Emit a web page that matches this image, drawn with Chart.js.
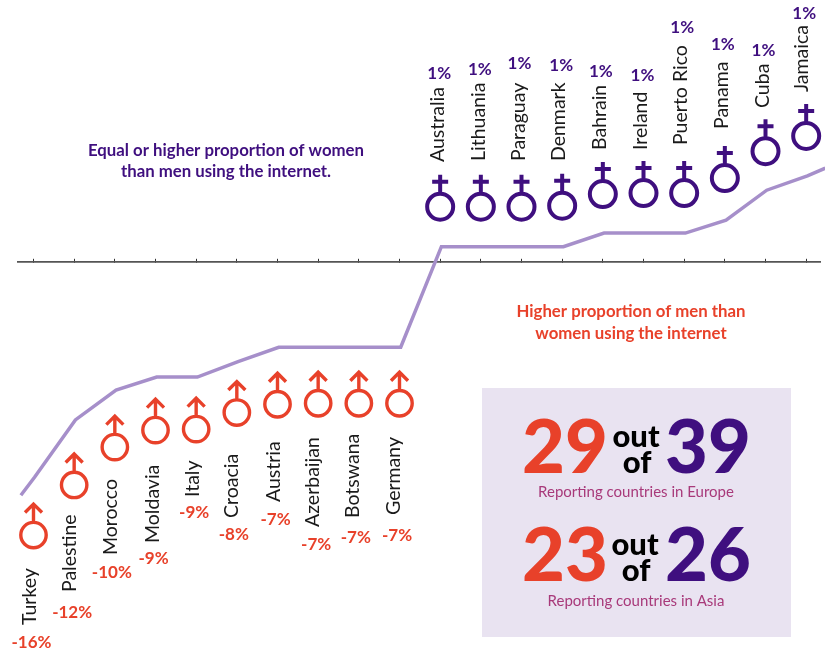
<!DOCTYPE html>
<html>
<head>
<meta charset="utf-8">
<style>html,body{margin:0;padding:0;background:#fff}canvas{display:block}</style>
<script src="https://cdn.jsdelivr.net/npm/chart.js@4"></script>
</head>
<body>
<canvas id="c" width="825" height="651"></canvas>
<script>
// ---- data ----
const categories = ["Turkey","Palestine","Morocco","Moldavia","Italy","Croacia","Austria","Azerbaijan","Botswana","Germany","Australia","Lithuania","Paraguay","Denmark","Bahrain","Ireland","Puerto Rico","Panama","Cuba","Jamaica"];
const percentLabels = [-16,-12,-10,-9,-9,-8,-7,-7,-7,-7,1,1,1,1,1,1,1,1,1,1];
const lineValues = [-16.6,-12.2,-9.9,-8.9,-8.9,-7.7,-6.6,-6.6,-6.6,-6.6,1.15,1.15,1.15,1.15,2.2,2.2,2.2,3.2,5.5,6.6];
const lineLeadIn = {x:-0.31, y:-18};
const lineLeadOut = {x:19.47, y:7.2};

// ---- layout (pixels), kept apart from the data ----
const symbolOffset = [58,65,57,53,52,51,57,56,56,56,-40,-40,-40,-41,-39,-40,-40,-42,-39,-40];
const nameX = [-3.5,-4,-4,-3,-3,-5,-4,-5,-6,-5.5,-2,-2,-3,-3,-3,-3,-3,-3,-3,-4];
const nameBottom = [625,592,555,543,497,518,502,527,518,515,162,161,161,161,150,150,145,129,108,92];
const pctX = [-2,-2,-3,-2,-2,-3,-2,-2,-3,-2.5,-1,-1,-2,-1,-2,-1,-2,-2,-2,-2];
const pctY = [643,613,573,559,513,535,520,545,538,536,74,70,64,66,72,76,28,45,51,14];

const RED = "#e8412a", PURPLE = "#3f0f7f", LINE = "#a68fca", FONT = "Lato, 'Open Sans', sans-serif";

function text(ctx, s, x, y, font, color, align) {
  ctx.font = font; ctx.fillStyle = color; ctx.textAlign = align || "center"; ctx.textBaseline = "middle";
  ctx.fillText(s, x, y);
}
function female(ctx, x, y) {
  ctx.strokeStyle = PURPLE; ctx.lineWidth = 4; ctx.beginPath();
  ctx.arc(x, y, 13, 0, Math.PI*2);
  ctx.moveTo(x, y-13); ctx.lineTo(x, y-32);
  ctx.moveTo(x-8, y-25); ctx.lineTo(x+8, y-25);
  ctx.stroke();
}
function male(ctx, x, y) {
  ctx.strokeStyle = RED; ctx.lineWidth = 3.4; ctx.beginPath();
  ctx.arc(x, y, 12.7, 0, Math.PI*2);
  ctx.moveTo(x, y-13); ctx.lineTo(x, y-31);
  ctx.moveTo(x-8.5, y-22.5); ctx.lineTo(x, y-31); ctx.lineTo(x+8.5, y-22.5);
  ctx.stroke();
}

const panelPlugin = {
  id: "panel",
  beforeDraw(chart) {
    const ctx = chart.ctx;
    ctx.save();
    ctx.fillStyle = "#e9e3f1";
    ctx.fillRect(482, 388, 309, 249);
    ctx.restore();
  }
};

const annotations = {
  id: "annotations",
  afterDatasetsDraw(chart) {
    const ctx = chart.ctx, xs = chart.scales.x, ys = chart.scales.y;
    ctx.save();
    categories.forEach((name, i) => {
      const px = xs.getPixelForValue(i), py = ys.getPixelForValue(lineValues[i]);
      const isWomen = percentLabels[i] > 0;
      (isWomen ? female : male)(ctx, px, py + symbolOffset[i]);
      text(ctx, percentLabels[i] + "%", px + pctX[i], pctY[i], "700 17px " + FONT, isWomen ? PURPLE : RED);
      ctx.save();
      ctx.translate(px + nameX[i], nameBottom[i]);
      ctx.rotate(-Math.PI/2);
      text(ctx, name, 0, 0, "400 19.5px " + FONT, "#1a1a1a", "left");
      ctx.restore();
    });

    const head = "700 16.8px " + FONT;
    text(ctx, "Equal or higher proportion of women", 226, 151, head, PURPLE);
    text(ctx, "than men using the internet.", 226, 172, head, PURPLE);
    text(ctx, "Higher proportion of men than", 631, 312, head, RED);
    text(ctx, "women using the internet", 631, 334, head, RED);

    const big = "900 74px " + FONT, small = "900 31px " + FONT, cap = "400 15px " + FONT;
    text(ctx, "29", 565, 449, big, RED);
    text(ctx, "out", 636, 437, small, "#000");
    text(ctx, "of", 637, 463, small, "#000");
    text(ctx, "39", 708, 449, big, PURPLE);
    text(ctx, "Reporting countries in Europe", 636, 492, cap, "#a8397a");
    text(ctx, "23", 565, 557, big, RED);
    text(ctx, "out", 635, 545, small, "#000");
    text(ctx, "of", 636, 571, small, "#000");
    text(ctx, "26", 708, 557, big, PURPLE);
    text(ctx, "Reporting countries in Asia", 636, 601, cap, "#a8397a");
    ctx.restore();
  }
};

const points = [lineLeadIn].concat(categories.map((c, i) => ({x: i + 0.03, y: lineValues[i]})), [lineLeadOut]);

new Chart(document.getElementById("c"), {
  type: "line",
  data: { datasets: [{ data: points, borderColor: LINE, borderWidth: 3.5, pointRadius: 0, tension: 0, clip: false, borderJoinStyle: "miter" }] },
  options: {
    responsive: false,
    animation: false,
    layout: { padding: { left: 18, right: 5, top: 2, bottom: 0 } },
    plugins: { legend: { display: false }, tooltip: { enabled: false } },
    scales: {
      x: {
        type: "linear", position: { y: 0 }, min: -0.381, max: 19.34,
        ticks: { display: false, stepSize: 1, includeBounds: false },
        grid: { drawOnChartArea: false, drawTicks: true, tickLength: -4, color: "#333", lineWidth: 1 },
        border: { display: true, color: "#555", width: 1.8 }
      },
      y: { display: false, min: -30, max: 20 }
    }
  },
  plugins: [panelPlugin, annotations]
});
</script>
</body>
</html>
